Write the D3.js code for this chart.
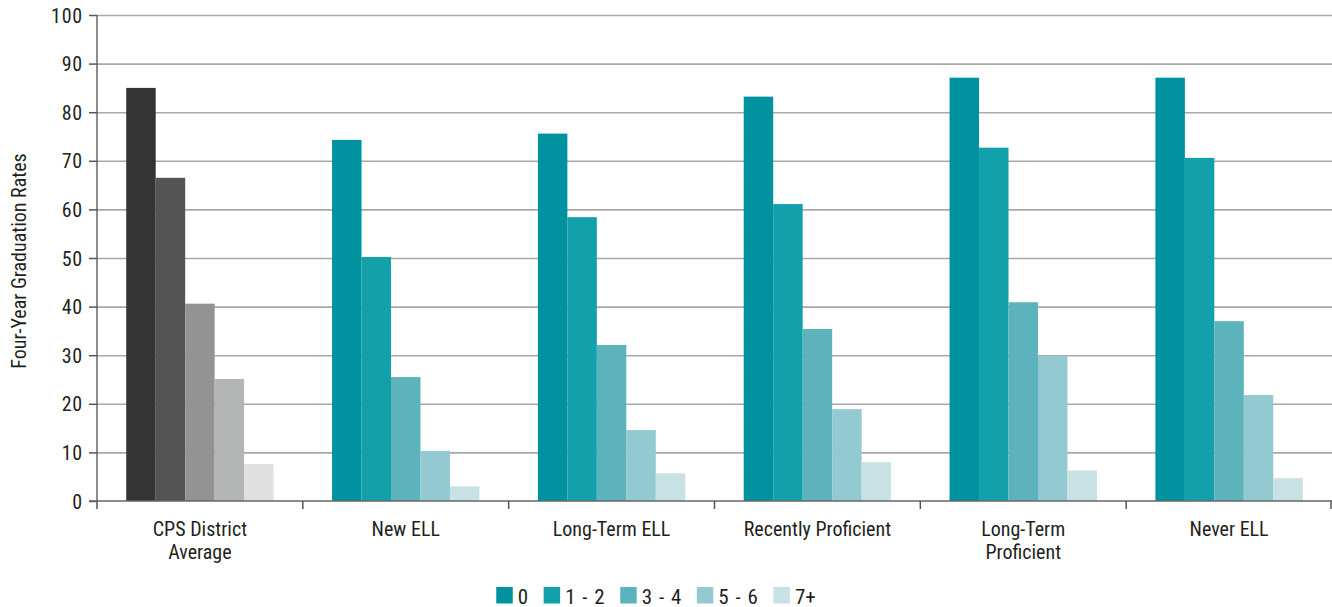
<!DOCTYPE html>
<html>
<head>
<meta charset="utf-8">
<script src="https://cdn.jsdelivr.net/npm/d3@7"></script>
<style>
  html, body { margin: 0; padding: 0; background: #fff; }
  svg { display: block; }
  text { font-family: "Roboto Condensed", "Liberation Sans Narrow", sans-serif; fill: #231f20; }
</style>
</head>
<body>
<svg id="chart" width="1332" height="607"></svg>
<script>
const categories = ["CPS District\nAverage", "New ELL", "Long-Term ELL", "Recently Proficient", "Long-Term\nProficient", "Never ELL"];
const seriesNames = ["0", "1 - 2", "3 - 4", "5 - 6", "7+"];
const values0  = [85.0, 74.3, 75.6, 83.2, 87.1, 87.1];
const values12 = [66.5, 50.2, 58.4, 61.1, 72.7, 70.6];
const values34 = [40.6, 25.5, 32.1, 35.4, 40.9, 37.0];
const values56 = [25.1, 10.3, 14.6, 18.9, 29.9, 21.8];
const values7p = [7.6, 3.0, 5.7, 8.0, 6.3, 4.7];
const yTicks = [0, 10, 20, 30, 40, 50, 60, 70, 80, 90, 100];
const yLabel = "Four-Year Graduation Rates";
const tealColors = ["#00929e", "#12a1ab", "#5db3bc", "#93c9d1", "#c7e1e5"];
const grayColors = ["#333433", "#545454", "#939393", "#b4b5b5", "#e0e0e0"];

const FONT = '"Roboto Condensed", "Liberation Sans Narrow", sans-serif';

const seriesValues = [values0, values12, values34, values56, values7p];
const data = categories.map((c, i) => ({
  category: c,
  values: seriesNames.map((s, j) => ({ key: s, idx: j, value: seriesValues[j][i] }))
}));

const svg = d3.select("#chart");
const mLeft = 97, mRight = 1332, mTop = 15, mBottom = 501;

const x0 = d3.scaleBand().domain(categories).range([mLeft, mRight]).padding(0);
const bw = x0.bandwidth();
const x1 = d3.scaleBand().domain(seriesNames).range([bw * 0.142, bw * 0.858]).padding(0);
const y = d3.scaleLinear().domain([0, 100]).range([mBottom, mTop]);

// gridlines
const grid = svg.append("g").attr("transform", `translate(${mLeft},0)`)
  .call(d3.axisLeft(y).tickValues(yTicks.filter(d => d > 0)).tickSize(-(mRight - mLeft)).tickFormat(""));
grid.select(".domain").remove();
grid.selectAll(".tick line").attr("stroke", "#a9a9a9").attr("stroke-width", 1.6);

// bars
const groups = svg.append("g").selectAll("g").data(data).join("g")
  .attr("transform", d => `translate(${x0(d.category)},0)`);
groups.selectAll("rect").data((d, i) => d.values.map(v => ({ ...v, gi: i }))).join("rect")
  .attr("x", d => x1(d.key))
  .attr("width", x1.bandwidth())
  .attr("y", d => y(d.value))
  .attr("height", d => y(0) - y(d.value))
  .attr("fill", d => d.gi === 0 ? grayColors[d.idx] : tealColors[d.idx]);

// y axis
const yAxis = svg.append("g").attr("transform", `translate(${mLeft},0)`)
  .call(d3.axisLeft(y).tickValues(yTicks).tickSize(8).tickPadding(6));
yAxis.attr("font-family", null).attr("font-size", null);
yAxis.select(".domain").attr("stroke", "#666").attr("stroke-width", 1.5).attr("d", `M0,${mTop}V${mBottom}`);
yAxis.selectAll(".tick line").attr("stroke", "#555").attr("stroke-width", 1.5);
yAxis.selectAll(".tick text")
  .style("font-size", "20px").style("font-family", FONT)
  .style("letter-spacing", "0.8px")
  .attr("fill", "#231f20")
  .attr("dy", "0.35em");

// x axis
const xAxis = svg.append("g").attr("transform", `translate(0,${mBottom})`)
  .call(d3.axisBottom(x0).tickSize(0).tickFormat(""));
xAxis.attr("font-family", null).attr("font-size", null);
xAxis.select(".domain").attr("stroke", "#666").attr("stroke-width", 1.5).attr("d", `M${mLeft - 8},0H${mRight}`);
// boundary ticks
svg.append("g").selectAll("line").data(categories).join("line")
  .attr("x1", d => x0(d)).attr("x2", d => x0(d))
  .attr("y1", mBottom).attr("y2", mBottom + 8)
  .attr("stroke", "#555").attr("stroke-width", 1.5);
svg.append("line").attr("x1", mRight - 1).attr("x2", mRight - 1).attr("y1", mBottom).attr("y2", mBottom + 8)
  .attr("stroke", "#555").attr("stroke-width", 1.5);
// category labels
xAxis.selectAll(".tick").each(function(d) {
  const t = d3.select(this).append("text")
    .attr("text-anchor", "middle")
    .style("font-size", "20px").style("font-family", FONT)
    .attr("fill", "#231f20");
  d.split("\n").forEach((line, i) => {
    t.append("tspan").attr("x", 0).attr("y", 35 + i * 22.5).text(line);
  });
});

// y label
svg.append("text")
  .attr("transform", `translate(26,${(mTop + mBottom) / 2 + 3}) rotate(-90)`)
  .attr("text-anchor", "middle")
  .style("font-size", "20px").style("font-family", FONT)
  .text(yLabel);

// legend
const legend = svg.append("g");
let lx = 0;
seriesNames.forEach((s, i) => {
  const g = legend.append("g").attr("transform", `translate(${lx},0)`);
  g.append("rect").attr("x", 0).attr("y", 587).attr("width", 16.5).attr("height", 16.5).attr("fill", tealColors[i]);
  const t = g.append("text").attr("x", 21.5).attr("y", 603.5)
    .style("font-size", "21px").style("font-family", FONT)
    .style("word-spacing", "2px")
    .text(s);
  lx += 21.5 + t.node().getComputedTextLength() + 15.5;
});
const lw = lx - 15.5;
legend.attr("transform", `translate(${656 - lw / 2},0)`);
</script>
</body>
</html>
